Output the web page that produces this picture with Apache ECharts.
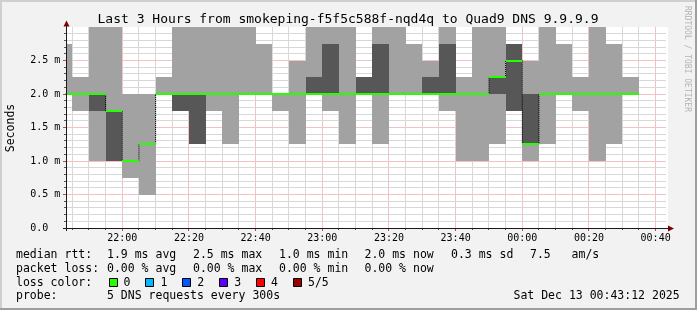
<!DOCTYPE html>
<html><head><meta charset="utf-8">
<script src="https://cdn.jsdelivr.net/npm/echarts@6/dist/echarts.min.js"></script>
<style>html,body{margin:0;padding:0;background:#f2f2f2}#c{width:697px;height:310px}</style>
</head><body><div id="c"></div>
<script>
// ---- data (5-minute buckets, values in ms) ----
const colStart = ['21:40','21:45','21:50','21:55','22:00','22:05','22:10','22:15','22:20','22:25',
  '22:30','22:35','22:40','22:45','22:50','22:55','23:00','23:05','23:10','23:15',
  '23:20','23:25','23:30','23:35','23:40','23:45','23:50','23:55','00:00','00:05',
  '00:10','00:15','00:20','00:25','00:30'];
const pingMin = [2.0,1.75,1.0,1.0,0.75,0.5,2.0,1.75,1.25,1.75, 1.25,2.0,2.0,1.75,1.25,2.0,1.75,1.25,2.0,1.25,
  2.0,2.0,2.0,1.75,1.0,1.0,1.25,1.75,1.0,1.25, 2.0,1.75,1.0,1.25,2.0];
const ping2 = [2.0,2.0,1.75,1.0,1.0,1.25,2.0,1.75,1.25,2.0, 2.0,2.0,2.0,2.0,2.0,2.0,2.0,2.0,2.0,2.0,
  2.0,2.0,2.0,2.0,2.0,2.0,2.0,1.75,1.25,2.0, 2.0,2.0,2.0,2.0,2.0];
const median = [2.0,2.0,2.0,1.75,1.0,1.25,2.0,2.0,2.0,2.0, 2.0,2.0,2.0,2.0,2.0,2.0,2.0,2.0,2.0,2.0,
  2.0,2.0,2.0,2.0,2.0,2.0,2.25,2.5,1.25,2.0, 2.0,2.0,2.0,2.0,2.0];
const ping4 = [2.0,2.0,2.0,1.75,1.0,1.25,2.0,2.0,2.0,2.0, 2.0,2.0,2.0,2.0,2.0,2.25,2.75,2.0,2.25,2.75,
  2.0,2.0,2.25,2.75,2.0,2.0,2.25,2.75,2.0,2.0, 2.0,2.0,2.0,2.0,2.0];
const pingMax = [2.75,2.25,3.0,3.0,2.0,2.0,2.25,3.0,3.0,3.0, 3.0,3.0,2.75,2.0,2.5,3.0,3.0,3.0,2.25,3.0,
  3.0,2.75,2.5,3.0,2.25,3.0,3.0,2.75,2.5,3.0, 2.75,2.25,3.0,2.75,2.25];
const stepMinutes = 5;
const viewStart = '21:43:12';
const viewEnd = '00:43:12';
const xTickLabels = ['22:00','22:20','22:40','23:00','23:20','23:40','00:00','00:20','00:40'];
const yTickLabels = ['0.0','0.5 m','1.0 m','1.5 m','2.0 m','2.5 m'];
const xMajorStep = 20, xMinorStep = 5, yMajorStep = 0.5, yMinorStep = 0.1, yTop = 3.0;

const titleText = 'Last 3 Hours from smokeping-f5f5c588f-nqd4q to Quad9 DNS 9.9.9.9';
const rttLabel = 'median rtt:';
const rttStats = ['1.9 ms avg','2.5 ms max','1.0 ms min','2.0 ms now','0.3 ms sd','7.5   am/s'];
const lossLabel = 'packet loss:';
const lossStats = ['0.00 % avg','0.00 % max','0.00 % min','0.00 % now'];
const lossColorLabel = 'loss color:';
const lossNames = ['0','1','2','3','4','5/5'];
const lossColors = ['#26ff00','#00b8ff','#0059ff','#5e00ff','#ff0000','#9e0000'];
const probeLabel = 'probe:';
const probeText = '5 DNS requests every 300s';
const dateText = 'Sat Dec 13 00:43:12 2025';

(function(){
function toMin(s){ // minutes since 21:00
  const p = s.split(':').map(Number);
  let h = p[0]; if (h < 12) h += 24;
  return (h - 21) * 60 + p[1] + (p[2] || 0) / 60;
}
function fmtMin(v){
  const t = Math.round(21*60 + v);
  const h = Math.floor(t/60) % 24, m = t % 60;
  return String(h).padStart(2,'0') + ':' + String(m).padStart(2,'0');
}
const xMin = toMin(viewStart), xMax = toMin(viewEnd);
const smokeData = colStart.map((s,i)=>{const a=toMin(s);return [a, a+stepMinutes, pingMin[i], ping2[i], ping4[i], pingMax[i]];});
const medData = colStart.map((s,i)=>{const a=toMin(s);return [a, a+stepMinutes, median[i]];});
const stepLine = [];
colStart.forEach((s,i)=>{const a=toMin(s); stepLine.push([a, median[i]]); stepLine.push([a+stepMinutes, median[i]]);});

const MONO = 'DejaVu Sans Mono';
const chart = echarts.init(document.getElementById('c'), null, {renderer:'canvas'});
function clampX(cs, v){ return Math.max(cs.x, Math.min(cs.x + cs.width, v)); }

const G = {left:66.3, top:27, width:600, height:201};
const GRIDC = '#d8d8d8';
const MGRIDC = '#f3c3c3';

const graphics = [];
// white plot canvas first (lowest), then grid lines are appended later
graphics.push({type:'rect', z:0, silent:true, shape:{x:Math.round(G.left), y:G.top, width:Math.round(G.width)+2, height:G.height}, style:{fill:'#ffffff'}});
graphics.push({type:'rect', shape:{x:0,y:0,width:697,height:2}, style:{fill:'#cfcfcf'}, silent:true});
graphics.push({type:'rect', shape:{x:0,y:0,width:2,height:310}, style:{fill:'#cfcfcf'}, silent:true});
graphics.push({type:'rect', shape:{x:695,y:0,width:2,height:310}, style:{fill:'#9e9e9e'}, silent:true});
graphics.push({type:'rect', shape:{x:0,y:308,width:697,height:2}, style:{fill:'#9e9e9e'}, silent:true});
graphics.push({type:'text', x:348, y:19.5, style:{text:titleText, font:'13px "'+MONO+'"', fill:'#000', align:'center', verticalAlign:'middle'}});
graphics.push({type:'text', x:687.5, y:59, rotation:-Math.PI/2, style:{text:'RRDTOOL / TOBI OETIKER', font:'8px "'+MONO+'"', fill:'#b4b4b4', align:'center', verticalAlign:'middle'}});
graphics.push({type:'text', x:11, y:128, rotation:Math.PI/2, style:{text:'Seconds', font:'11.5px "'+MONO+'"', fill:'#000', align:'center', verticalAlign:'middle'}});
graphics.push({type:'line', z:50, shape:{x1:66.5,y1:22,x2:66.5,y2:231}, style:{stroke:'#1a1a1a', lineWidth:1}});
graphics.push({type:'line', z:50, shape:{x1:63,y1:228.5,x2:669,y2:228.5}, style:{stroke:'#1a1a1a', lineWidth:1}});
graphics.push({type:'polygon', z:51, shape:{points:[[63.5,26.5],[69.5,26.5],[66.5,20.5]]}, style:{fill:'#800000'}});
graphics.push({type:'polygon', z:51, shape:{points:[[668,225.5],[668,231.5],[674,228.5]]}, style:{fill:'#800000'}});

const legendFont = '11.5px "'+MONO+'"';
const rowY = [255.2, 268.9, 282.6, 296.3];
const colX = [107, 193, 279, 364.5, 451, 530];
function txt(x,y,t){ graphics.push({type:'text', x:x, y:y, style:{text:t, font:legendFont, fill:'#000', align:'left', verticalAlign:'middle'}}); }
txt(16, rowY[0], rttLabel);
rttStats.forEach((t,i)=>txt(colX[i], rowY[0], t));
txt(16, rowY[1], lossLabel);
lossStats.forEach((t,i)=>txt(colX[i], rowY[1], t));
txt(16, rowY[2], lossColorLabel);
lossNames.forEach((t,i)=>{
  const bx = 108.5 + i*36.9;
  graphics.push({type:'rect', shape:{x:Math.round(bx)+0.5, y:278.5, width:8, height:8}, style:{fill:lossColors[i], stroke:'#000', lineWidth:1}});
  txt(bx + 15, rowY[2], t);
});
txt(16, rowY[3], probeLabel);
txt(107, rowY[3], probeText);
txt(513.5, rowY[3], dateText);

const option = {
  animation:false,
  backgroundColor:'#f2f2f2',
  grid:{left:G.left, top:G.top, width:G.width, height:G.height, show:false},
  xAxis:{
    type:'value', min:xMin, max:xMax, splitNumber:9,
    axisLine:{show:false}, axisTick:{show:false}, splitLine:{show:false},
    axisLabel:{margin:5, fontFamily:MONO, fontSize:10, color:'#000',
      formatter:function(v){ const s = fmtMin(v); return (Math.abs(v - Math.round(v)) < 1e-6 && xTickLabels.indexOf(s) >= 0) ? s : ''; }}
  },
  yAxis:{
    type:'value', min:0, max:yTop, interval:yMajorStep,
    axisLine:{show:false}, axisTick:{show:false}, splitLine:{show:false},
    axisLabel:{margin:6, fontFamily:MONO, fontSize:10, color:'#000',
      formatter:function(v){ const i = Math.round(v/yMajorStep); const s = yTickLabels[i]; return s === undefined ? '' : s.padEnd(5,' '); }}
  },
  graphic: {elements: graphics},
  series:[
    {
      type:'custom', name:'smoke', data:smokeData, z:3,
      renderItem:function(params, api){
        const cs = params.coordSys;
        const l = clampX(cs, Math.round(api.coord([api.value(0),0])[0]));
        const r = clampX(cs, Math.round(api.coord([api.value(1),0])[0]));
        if (r <= l) return null;
        const Y = v => Math.round(api.coord([api.value(0), v])[1]);
        const yMn = Y(api.value(2)), y2 = Y(api.value(3)), y4 = Y(api.value(4)), yMx = Y(api.value(5));
        const ch = [];
        if (yMn > yMx) ch.push({type:'rect', shape:{x:l, y:yMx, width:r-l, height:yMn-yMx}, style:{fill:'#a2a2a2'}});
        if (y2 > y4) ch.push({type:'rect', shape:{x:l, y:y4, width:r-l, height:y2-y4}, style:{fill:'#575757'}});
        return {type:'group', children:ch};
      }
    },
    {
      type:'line', name:'step', data:stepLine, z:4, symbol:'none', clip:true,
      lineStyle:{color:'#000', width:1, type:[1,1]}, silent:true
    },
    {
      type:'custom', name:'median', data:medData, z:5,
      renderItem:function(params, api){
        const cs = params.coordSys;
        const l = clampX(cs, Math.round(api.coord([api.value(0),0])[0]));
        const r = clampX(cs, Math.round(api.coord([api.value(1),0])[0]));
        if (r <= l) return null;
        const y = Math.round(api.coord([api.value(0), api.value(2)])[1]);
        return {type:'line', shape:{x1:l, y1:y, x2:r, y2:y}, style:{stroke:'#26ff00', lineWidth:2}};
      }
    }
  ]
};
chart.setOption(option);

// ---- grid lines & ticks, positioned through the axis scales ----
const gl = [];
const pLeft = Math.round(G.left), pRight = Math.round(G.left + G.width), pTop = G.top, pBottom = G.top + G.height;
for (let v = Math.ceil(xMin / xMinorStep) * xMinorStep; v < xMax; v += xMinorStep) {
  const px = Math.floor(chart.convertToPixel({xAxisIndex:0}, v)) + 0.5;
  const major = Math.abs(v / xMajorStep - Math.round(v / xMajorStep)) < 1e-6;
  gl.push({type:'line', z:1, silent:true, shape:{x1:px, y1:pTop, x2:px, y2:pBottom}, style:{stroke: major ? MGRIDC : GRIDC, lineWidth:1}});
  gl.push({type:'line', z:1, silent:true, shape:{x1:px, y1:pBottom, x2:px, y2:pBottom + (major ? 3 : 2)}, style:{stroke: major ? '#d04040' : '#555', lineWidth:1}});
}
const nY = Math.round(yTop / yMinorStep);
for (let k = 1; k < nY; k++) {
  const v = k * yMinorStep;
  const py = Math.floor(chart.convertToPixel({yAxisIndex:0}, v)) + 0.5;
  const major = (k % Math.round(yMajorStep / yMinorStep)) === 0;
  gl.push({type:'line', z:1, silent:true, shape:{x1:pLeft, y1:py, x2:pRight, y2:py}, style:{stroke: major ? MGRIDC : GRIDC, lineWidth:1}});
  gl.push({type:'line', z:1, silent:true, shape:{x1:pLeft - (major ? 3 : 2), y1:py, x2:pLeft, y2:py}, style:{stroke: major ? '#d04040' : '#555', lineWidth:1}});
}
chart.setOption({graphic: {elements: graphics.concat(gl)}});
})();
</script></body></html>
